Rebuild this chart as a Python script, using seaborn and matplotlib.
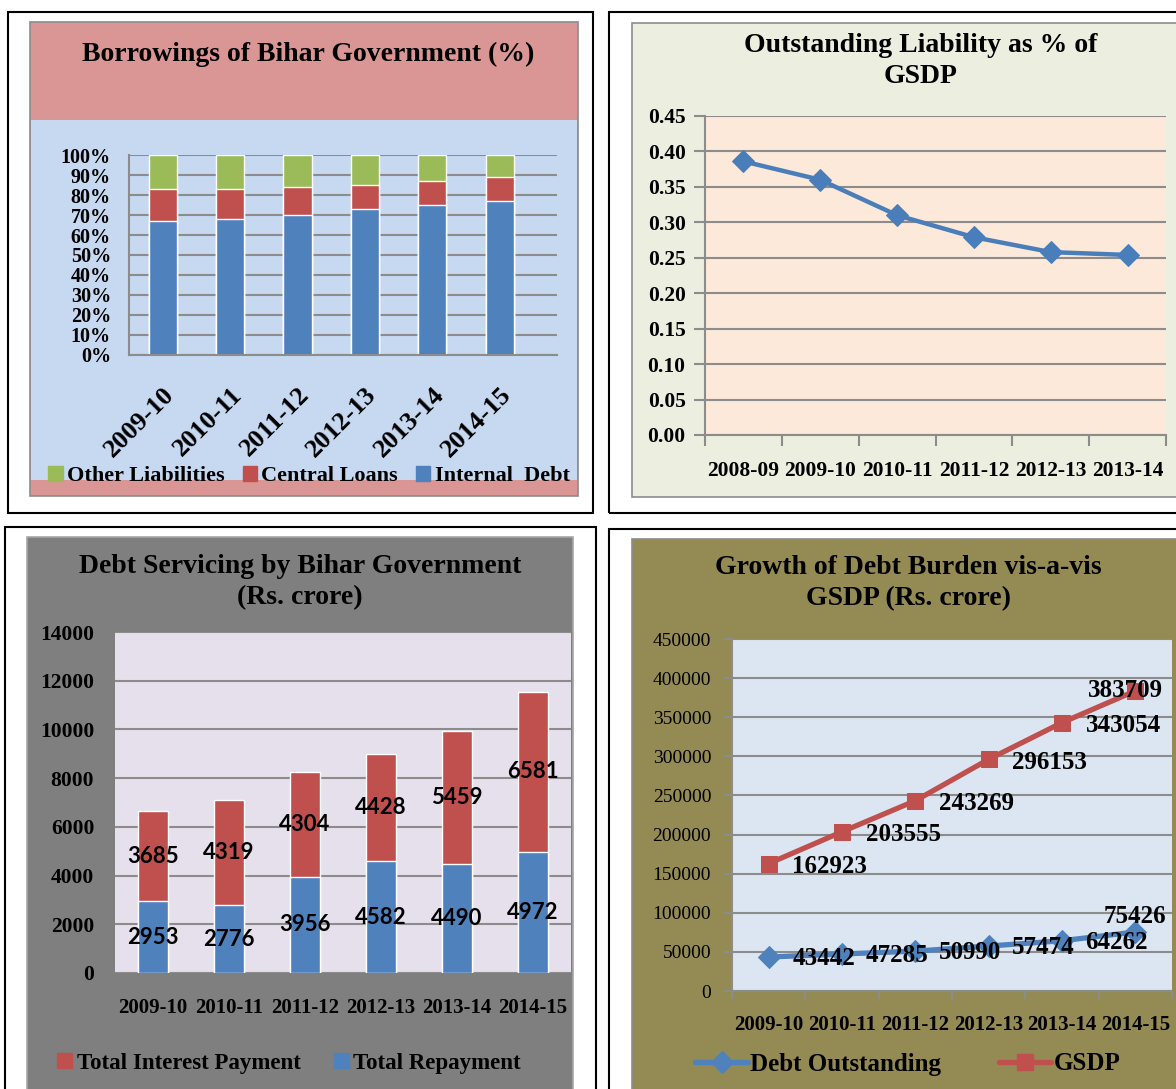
import matplotlib
matplotlib.use("Agg")
import matplotlib.pyplot as plt
from matplotlib.patches import Rectangle, Patch
from matplotlib.lines import Line2D
import seaborn as sns

# Borrowings of Bihar Government (% share)
borrow_years = ["2009-10", "2010-11", "2011-12", "2012-13", "2013-14", "2014-15"]
internal_debt = [67, 68, 70, 73, 75, 77]
central_loans = [16, 15, 14, 12, 12, 12]
other_liabilities = [17, 17, 16, 15, 13, 11]

# Outstanding liability as % of GSDP
liab_years = ["2008-09", "2009-10", "2010-11", "2011-12", "2012-13", "2013-14"]
liab_gsdp = [0.386, 0.360, 0.310, 0.279, 0.258, 0.254]

# Debt servicing (Rs. crore)
service_years = ["2009-10", "2010-11", "2011-12", "2012-13", "2013-14", "2014-15"]
total_repayment = [2953, 2776, 3956, 4582, 4490, 4972]
total_interest = [3685, 4319, 4304, 4428, 5459, 6581]

# Growth of debt burden vs GSDP (Rs. crore)
growth_years = ["2009-10", "2010-11", "2011-12", "2012-13", "2013-14", "2014-15"]
debt_outstanding = [43442, 47285, 50990, 57474, 64262, 75426]
gsdp = [162923, 203555, 243269, 296153, 343054, 383709]

BLUE = "#4F81BD"
RED = "#C0504D"
GREEN = "#9BBB59"
GRID = "#8C8C8C"
SERIF = "Liberation Serif"

sns.set_theme(style="white")
plt.rcParams["font.family"] = [SERIF, "DejaVu Sans"]
plt.rcParams["text.color"] = "black"
plt.rcParams["xtick.color"] = "black"
plt.rcParams["ytick.color"] = "black"
plt.rcParams["axes.labelcolor"] = "black"

W, H = 1176, 1089
fig = plt.figure(figsize=(W / 100, H / 100), dpi=100)


def frac(x0, y0, x1, y1):
    return [x0 / W, 1 - y1 / H, (x1 - x0) / W, (y1 - y0) / H]


def rect(x0, y0, x1, y1, **kw):
    fig.add_artist(Rectangle((x0 / W, 1 - y1 / H), (x1 - x0) / W, (y1 - y0) / H,
                             transform=fig.transFigure, zorder=-5, **kw))


def ftext(x, y, s, **kw):
    fig.text(x / W, 1 - y / H, s, ha="center", va="center", **kw)


# panel frames and backgrounds
rect(8, 12, 593, 513, fill=False, edgecolor="black", lw=1.5)
rect(30, 22, 578, 496, facecolor="#D99694", edgecolor=GRID, lw=1.2)
rect(31, 120, 577, 480, facecolor="#C6D9F1", edgecolor="none")

rect(609, 12, 1185, 513, fill=False, edgecolor="black", lw=1.5)
rect(632, 23, 1185, 497, facecolor="#ECEEDF", edgecolor=GRID, lw=1.2)

rect(5, 527, 596, 1100, fill=False, edgecolor="black", lw=1.5)
rect(27, 537, 573, 1100, facecolor="#7F7F7F", edgecolor="#A6A6A6", lw=1.2)

rect(609, 529, 1185, 1100, fill=False, edgecolor="black", lw=1.5)
rect(632, 539, 1185, 1100, facecolor="#948A54", edgecolor=GRID, lw=1.2)

# ---------------- top left: stacked percentage bars ----------------
ax1 = fig.add_axes(frac(129, 155, 557, 355))
ax1.set_facecolor("none")
lower_two = [a + b for a, b in zip(internal_debt, central_loans)]
totals = [a + b for a, b in zip(lower_two, other_liabilities)]
sns.barplot(x=borrow_years, y=totals, color=GREEN, saturation=1, width=0.42, ax=ax1)
sns.barplot(x=borrow_years, y=lower_two, color=RED, saturation=1, width=0.42, ax=ax1)
sns.barplot(x=borrow_years, y=internal_debt, color=BLUE, saturation=1, width=0.42, ax=ax1)
ax1.set_xlim(-0.5, 5.85)
ax1.set_ylim(0, 100)
ax1.set_yticks(range(0, 101, 10))
ax1.set_yticklabels([f"{v}%" for v in range(0, 101, 10)], fontsize=14.5, fontweight="bold")
ax1.yaxis.grid(True, color=GRID, lw=1.5)
ax1.set_axisbelow(True)
ax1.set_xlabel("")
ax1.set_ylabel("")
for s in ["top", "right"]:
    ax1.spines[s].set_visible(False)
for s in ["left", "bottom"]:
    ax1.spines[s].set_color(GRID)
    ax1.spines[s].set_linewidth(1.5)
ax1.tick_params(axis="y", length=0, pad=13)
ax1.tick_params(axis="x", length=0, pad=20)
for lab in ax1.get_xticklabels():
    lab.set_rotation(45)
    lab.set_ha("right")
    lab.set_rotation_mode("anchor")
    lab.set_fontsize(19)
    lab.set_fontweight("bold")

fig.legend(handles=[Patch(color=GREEN, label="Other Liabilities"),
                    Patch(color=RED, label="Central Loans"),
                    Patch(color=BLUE, label="Internal  Debt")],
           loc="center", bbox_to_anchor=(309 / W, 1 - 476 / H), ncol=3, frameon=False,
           prop={"family": SERIF, "weight": "bold", "size": 16},
           handlelength=0.65, handleheight=0.65, handletextpad=0.2, columnspacing=0.8)
ftext(308, 54, "Borrowings of Bihar Government (%)", fontsize=20, fontweight="bold")

# ---------------- top right: liability line ----------------
ax2 = fig.add_axes(frac(705, 116, 1166, 435))
ax2.set_facecolor("#FDE9D9")
sns.lineplot(x=list(range(len(liab_years))), y=liab_gsdp, marker="D", markersize=11,
             color="#4A7EBB", lw=3.2, markeredgecolor="#4A7EBB", ax=ax2)
ax2.set_xlim(-0.5, len(liab_years) - 0.5)
ax2.set_ylim(0, 0.45)
ax2.set_yticks([i * 0.05 for i in range(10)])
ax2.set_yticklabels([f"{i * 0.05:.2f}" for i in range(10)], fontsize=15.5, fontweight="bold")
ax2.set_xticks(range(len(liab_years)))
ax2.set_xticklabels(liab_years, fontsize=15.5, fontweight="bold")
ax2.set_xticks([i - 0.5 for i in range(len(liab_years) + 1)], minor=True)
ax2.yaxis.grid(True, color=GRID, lw=1.5)
ax2.set_axisbelow(True)
for s in ["top", "right"]:
    ax2.spines[s].set_visible(False)
for s in ["left", "bottom"]:
    ax2.spines[s].set_color(GRID)
    ax2.spines[s].set_linewidth(1.5)
ax2.tick_params(axis="y", direction="out", length=8, color=GRID, width=1.5, left=True, pad=6)
ax2.tick_params(axis="x", which="major", length=0, pad=19)
ax2.tick_params(axis="x", which="minor", direction="out", length=8, color=GRID, width=1.5, bottom=True)
ftext(921, 61, "Outstanding Liability as % of\nGSDP", fontsize=20, fontweight="bold",
      linespacing=1.35)

# ---------------- bottom left: debt servicing ----------------
ax3 = fig.add_axes(frac(115, 632, 571, 973))
ax3.set_facecolor("#E6E0EC")
service_total = [a + b for a, b in zip(total_repayment, total_interest)]
sns.barplot(x=service_years, y=service_total, color=RED, saturation=1, width=0.4, ax=ax3)
sns.barplot(x=service_years, y=total_repayment, color=BLUE, saturation=1, width=0.4, ax=ax3)
ax3.set_ylim(0, 14000)
ax3.set_yticks(range(0, 14001, 2000))
ax3.set_yticklabels([str(v) for v in range(0, 14001, 2000)], fontsize=15.5, fontweight="bold")
ax3.set_xticklabels(service_years, fontsize=15, fontweight="bold")
ax3.yaxis.grid(True, color=GRID, lw=1.5)
ax3.set_axisbelow(True)
ax3.set_xlabel("")
ax3.set_ylabel("")
for s in ax3.spines.values():
    s.set_visible(False)
ax3.tick_params(axis="y", length=0, pad=15)
ax3.tick_params(axis="x", length=0, pad=18)
for i, (rp, ip) in enumerate(zip(total_repayment, total_interest)):
    ax3.text(i, rp / 2, str(rp), ha="center", va="center", fontsize=16,
             fontweight="bold", family="Lato")
    ax3.text(i, rp + ip / 2, str(ip), ha="center", va="center", fontsize=16,
             fontweight="bold", family="Lato")
fig.legend(handles=[Patch(color=RED, label="Total Interest Payment"),
                    Patch(color=BLUE, label="Total Repayment")],
           loc="center", bbox_to_anchor=(289 / W, 1 - 1063 / H), ncol=2, frameon=False,
           prop={"family": SERIF, "weight": "bold", "size": 16.5},
           handlelength=0.65, handleheight=0.65, handletextpad=0.2, columnspacing=1.45)
ftext(300, 582, "Debt Servicing by Bihar Government\n(Rs. crore)", fontsize=20,
      fontweight="bold", linespacing=1.35)

# ---------------- bottom right: debt vs GSDP ----------------
ax4 = fig.add_axes(frac(732, 639, 1172, 991))
ax4.set_facecolor("#DCE6F2")
xs = list(range(len(growth_years)))
sns.lineplot(x=xs, y=gsdp, marker="s", markersize=12, color=RED, lw=3.8,
             markeredgecolor=RED, ax=ax4)
sns.lineplot(x=xs, y=debt_outstanding, marker="D", markersize=11, color=BLUE, lw=3.8,
             markeredgecolor=BLUE, ax=ax4)
ax4.set_xlim(-0.5, len(growth_years) - 0.5)
ax4.set_ylim(0, 450000)
ax4.set_yticks(range(0, 450001, 50000))
ax4.set_yticklabels([str(v) for v in range(0, 450001, 50000)], fontsize=14)
ax4.set_xticks(xs)
ax4.set_xticklabels(growth_years, fontsize=15, fontweight="bold")
ax4.set_xticks([i - 0.5 for i in range(len(growth_years) + 1)], minor=True)
ax4.yaxis.grid(True, color=GRID, lw=1.5)
ax4.set_axisbelow(True)
for s in ["top", "right"]:
    ax4.spines[s].set_visible(False)
for s in ["left", "bottom"]:
    ax4.spines[s].set_color(GRID)
    ax4.spines[s].set_linewidth(1.5)
ax4.tick_params(axis="y", direction="out", length=6, color=GRID, width=1.5, left=True, pad=9)
ax4.tick_params(axis="x", which="major", length=0, pad=17)
ax4.tick_params(axis="x", which="minor", direction="out", length=6, color=GRID, width=1.5, bottom=True)
last = len(xs) - 1
for i, v in enumerate(gsdp):
    if i == last:
        ax4.annotate(str(v), (i, v), xytext=(-7, 0), textcoords="offset points",
                     ha="center", va="center", fontsize=18, fontweight="bold")
    else:
        ax4.annotate(str(v), (i, v), xytext=(17, -2), textcoords="offset points",
                     ha="left", va="center", fontsize=18, fontweight="bold")
for i, v in enumerate(debt_outstanding):
    if i == last:
        ax4.annotate(str(v), (i, v), xytext=(0, 11), textcoords="offset points",
                     ha="center", va="center", fontsize=18, fontweight="bold")
    else:
        ax4.annotate(str(v), (i, v), xytext=(17, -1), textcoords="offset points",
                     ha="left", va="center", fontsize=18, fontweight="bold")
fig.legend(handles=[Line2D([], [], color=BLUE, lw=3.8, marker="D", markersize=11,
                           label="Debt Outstanding"),
                    Line2D([], [], color=RED, lw=3.8, marker="s", markersize=12,
                           label="GSDP")],
           loc="center", bbox_to_anchor=(908 / W, 1 - 1064 / H), ncol=2, frameon=False,
           prop={"family": SERIF, "weight": "bold", "size": 18},
           handlelength=2.1, handletextpad=0.1, columnspacing=2.3)
ftext(908, 583, "Growth of Debt Burden vis-a-vis\nGSDP (Rs. crore)", fontsize=20,
      fontweight="bold", linespacing=1.35)

fig.savefig("out.png", dpi=100)
